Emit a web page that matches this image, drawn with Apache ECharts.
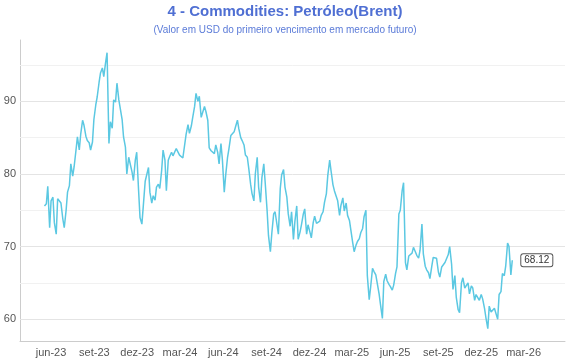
<!DOCTYPE html>
<html><head><meta charset="utf-8">
<script src="https://cdn.jsdelivr.net/npm/echarts@6/dist/echarts.min.js"></script>
<style>html,body{margin:0;padding:0;background:#fff}#c{width:570px;height:360px}</style>
</head><body><div id="c"></div>
<script>
const dates = [
'2023-05-18','2023-05-22','2023-05-25','2023-05-29',
'2023-06-01','2023-06-05','2023-06-08','2023-06-12','2023-06-15','2023-06-19','2023-06-22','2023-06-26','2023-06-29','2023-07-03',
'2023-07-06','2023-07-10','2023-07-13','2023-07-17','2023-07-20','2023-07-24','2023-07-27','2023-07-31',
'2023-08-03','2023-08-07','2023-08-10','2023-08-14','2023-08-17','2023-08-21','2023-08-24','2023-08-28','2023-08-31','2023-09-04',
'2023-09-07','2023-09-11','2023-09-14','2023-09-18','2023-09-21','2023-09-25','2023-09-28','2023-10-02',
'2023-10-05','2023-10-09','2023-10-12','2023-10-16','2023-10-19','2023-10-23','2023-10-26','2023-10-30',
'2023-11-02','2023-11-06','2023-11-09','2023-11-13','2023-11-16','2023-11-20','2023-11-23','2023-11-27','2023-11-30','2023-12-04',
'2023-12-07','2023-12-11','2023-12-14','2023-12-18','2023-12-21','2023-12-25','2023-12-28','2024-01-01',
'2024-01-04','2024-01-08','2024-01-11','2024-01-15','2024-01-18','2024-01-22','2024-01-25','2024-01-29',
'2024-02-01','2024-02-05','2024-02-08','2024-02-12','2024-02-15','2024-02-19','2024-02-22','2024-02-26','2024-02-29','2024-03-04',
'2024-03-07','2024-03-11','2024-03-14','2024-03-18','2024-03-21','2024-03-25','2024-03-28','2024-04-01',
'2024-04-04','2024-04-08','2024-04-11','2024-04-15','2024-04-18','2024-04-22','2024-04-25','2024-04-29',
'2024-05-02','2024-05-06','2024-05-09','2024-05-13','2024-05-16','2024-05-20','2024-05-23','2024-05-27','2024-05-30','2024-06-03',
'2024-06-06','2024-06-10','2024-06-13','2024-06-17','2024-06-20','2024-06-24','2024-06-27','2024-07-01',
'2024-07-04','2024-07-08','2024-07-11','2024-07-15','2024-07-18','2024-07-22','2024-07-25','2024-07-29',
'2024-08-01','2024-08-05','2024-08-08','2024-08-12','2024-08-15','2024-08-19','2024-08-22','2024-08-26','2024-08-29','2024-09-02',
'2024-09-05','2024-09-09','2024-09-12','2024-09-16','2024-09-19','2024-09-23','2024-09-26','2024-09-30',
'2024-10-03','2024-10-07','2024-10-10','2024-10-14','2024-10-17','2024-10-21','2024-10-24','2024-10-28','2024-10-31','2024-11-04',
'2024-11-07','2024-11-11','2024-11-14','2024-11-18','2024-11-21','2024-11-25','2024-11-28','2024-12-02',
'2024-12-05','2024-12-09','2024-12-12','2024-12-16','2024-12-19','2024-12-23','2024-12-26','2024-12-30',
'2025-01-02','2025-01-06','2025-01-09','2025-01-13','2025-01-16','2025-01-20','2025-01-23','2025-01-27','2025-01-30','2025-02-03',
'2025-02-06','2025-02-10','2025-02-13','2025-02-17','2025-02-20','2025-02-24','2025-02-27','2025-03-03',
'2025-03-06','2025-03-10','2025-03-13','2025-03-17','2025-03-20','2025-03-24','2025-03-27','2025-03-31',
'2025-04-03','2025-04-07','2025-04-10','2025-04-14','2025-04-17','2025-04-21','2025-04-24','2025-04-28',
'2025-05-01','2025-05-05','2025-05-08','2025-05-12','2025-05-15','2025-05-19','2025-05-22','2025-05-26','2025-05-29','2025-06-02',
'2025-06-05','2025-06-09','2025-06-12','2025-06-16','2025-06-19','2025-06-23','2025-06-26','2025-06-30',
'2025-07-03','2025-07-07','2025-07-10','2025-07-14','2025-07-17','2025-07-21','2025-07-24','2025-07-28','2025-07-31','2025-08-04',
'2025-08-07','2025-08-11','2025-08-14','2025-08-18','2025-08-21','2025-08-25','2025-08-28','2025-09-01',
'2025-09-04','2025-09-08','2025-09-11','2025-09-15','2025-09-18','2025-09-22','2025-09-25','2025-09-29',
'2025-10-02','2025-10-06','2025-10-09','2025-10-13','2025-10-16','2025-10-20','2025-10-23','2025-10-27','2025-10-30','2025-11-03',
'2025-11-06','2025-11-10','2025-11-13','2025-11-17','2025-11-20','2025-11-24','2025-11-27','2025-12-01',
'2025-12-04','2025-12-08','2025-12-11','2025-12-15','2025-12-18','2025-12-22','2025-12-25','2025-12-29',
'2026-01-01','2026-01-05','2026-01-08','2026-01-12','2026-01-15','2026-01-19','2026-01-22','2026-01-26','2026-01-29','2026-02-02','2026-02-05'
];
const brent = [
75.6,75.9,78.3,72.6,76.3,76.8,73.3,71.7,76.6,76.4,76.0,73.8,72.6,75.0,77.5,78.4,81.4,79.7,81.0,83.3,85.1,83.3,85.5,87.4,86.7,85.2,84.6,84.3,83.3,84.4,87.5,89.5,90.6,92.6,93.9,94.6,93.4,95.4,96.7,84.2,87.2,86.3,90.2,89.9,92.5,90.2,90.4,87.5,85.1,83.7,80.0,82.3,82.1,80.3,79.1,81.9,83.0,77.7,74.0,73.1,75.6,79.0,79.1,80.9,77.5,76.0,
77.0,76.4,78.2,78.6,78.0,80.5,83.3,81.9,77.7,81.9,82.4,83.0,82.5,82.7,83.5,83.4,82.6,82.6,82.2,82.0,85.5,86.8,85.6,86.6,87.8,89.3,91.1,90.0,90.7,87.8,87.9,89.3,88.6,87.4,83.6,83.2,83.0,82.8,84.0,83.0,81.4,84.2,82.0,77.5,79.8,82.3,83.5,85.3,85.3,85.8,86.5,87.4,86.2,85.0,84.6,84.0,82.6,82.3,80.8,78.6,77.3,76.3,80.0,82.3,78.2,76.1,79.5,81.4,78.8,75.0,71.5,69.3,71.8,74.5,74.8,74.8,71.7,78.0,79.9,80.6,78.2,76.8,74.5,72.8,74.8,71.0,73.4,75.6,71.0,72.0,73.0,74.5,75.2,71.7,73.0,72.0,71.2,73.3,74.2,73.2,73.0,73.5,74.3,74.8,
76.1,77.3,79.8,81.9,80.4,78.5,77.7,76.9,76.3,74.3,75.7,76.7,74.9,76.0,74.3,73.6,73.4,70.5,69.3,70.2,70.7,71.1,71.9,72.5,74.1,75.0,66.0,62.7,64.4,67.0,66.6,66.1,66.3,63.5,62.0,60.1,65.2,66.2,65.3,64.8,64.5,64.0,64.7,66.3,67.2,74.5,75.0,77.7,78.8,67.8,66.8,68.7,68.6,69.1,69.9,69.3,68.8,68.4,69.5,73.1,69.0,67.3,66.8,66.4,65.6,67.3,68.5,68.3,68.4,66.5,65.8,67.2,67.0,67.8,67.7,68.9,70.0,67.6,64.1,66.0,63.0,61.3,60.9,65.0,65.7,64.3,64.4,65.0,63.5,64.6,64.3,62.6,63.4,63.2,62.6,63.4,62.8,61.5,60.2,58.7,61.8,61.0,61.2,61.5,
61.6,60.0,63.4,63.8,66.3,66.0,67.3,70.5,70.0,66.1,68.12
];
const tickDates = ['2023-06-01','2023-09-01','2023-12-01','2024-03-01','2024-06-01','2024-09-01','2024-12-01','2025-03-01','2025-06-01','2025-09-01','2025-12-01','2026-03-01'];
const tickLabels = ['jun-23','set-23','dez-23','mar-24','jun-24','set-24','dez-24','mar-25','jun-25','set-25','dez-25','mar-26'];
const yLabelValues = [60, 70, 80, 90];
const yGridValues = [60, 65, 70, 75, 80, 85, 90, 95];

const P = s => echarts.time.parse(s).getTime();
const tickTimes = tickDates.map(P);
const chart = echarts.init(document.getElementById('c'), null, { renderer: 'canvas' });
chart.setOption({
  animation: false,
  backgroundColor: '#fff',
  textStyle: { fontFamily: 'Liberation Sans, Arial, Helvetica, sans-serif' },
  title: {
    text: '4 - Commodities: Petróleo(Brent)',
    subtext: '(Valor em USD do primeiro vencimento em mercado futuro)',
    left: 'center', top: 4, itemGap: 6, padding: 0,
    textStyle: { fontSize: 15, fontWeight: 'bold', color: '#4f6fd3' },
    subtextStyle: { fontSize: 10, color: '#5b7bd8' }
  },
  grid: { left: 20, right: 5, top: 40, bottom: 19, containLabel: false, outerBoundsMode: 'none' },
  xAxis: {
    type: 'value',
    min: P('2023-03-27'), max: P('2026-05-28'),
    axisLine: { show: true, lineStyle: { color: '#ccc' } },
    axisTick: { show: false },
    splitLine: { show: false },
    axisLabel: {
      customValues: tickTimes,
      formatter: v => { const i = tickTimes.indexOf(v); return i >= 0 ? tickLabels[i] : ''; },
      color: '#555', fontSize: 11, margin: 6, hideOverlap: false
    }
  },
  yAxis: {
    type: 'value', min: 57.0, max: 98.45,
    axisLine: { show: true, lineStyle: { color: '#ccc' } },
    axisTick: { show: false },
    axisLabel: { customValues: yLabelValues, color: '#555', fontSize: 11, margin: 4 },
    splitLine: { show: false }
  },
  series: [{
    type: 'line',
    z: 3,
    data: dates.map((d, i) => [P(d), brent[i]]),
    showSymbol: false,
    lineStyle: { color: '#5bc8e2', width: 1.5 },
    itemStyle: { color: '#5bc8e2' },
    endLabel: {
      show: true,
      formatter: p => p.value[1].toFixed(2),
      color: '#333', fontSize: 10,
      backgroundColor: '#fff', borderColor: '#555', borderWidth: 1, borderRadius: 2,
      padding: [1, 3], distance: 9
    },
    markLine: {
      silent: true, z: 1, symbol: 'none', animation: false,
      label: { show: false },
      data: yGridValues.map(v => ({
        yAxis: v,
        lineStyle: { color: v % 10 === 0 ? '#e4e4e4' : '#f1f1f1', width: 1, type: 'solid' }
      }))
    }
  }]
});
</script>
</body></html>
